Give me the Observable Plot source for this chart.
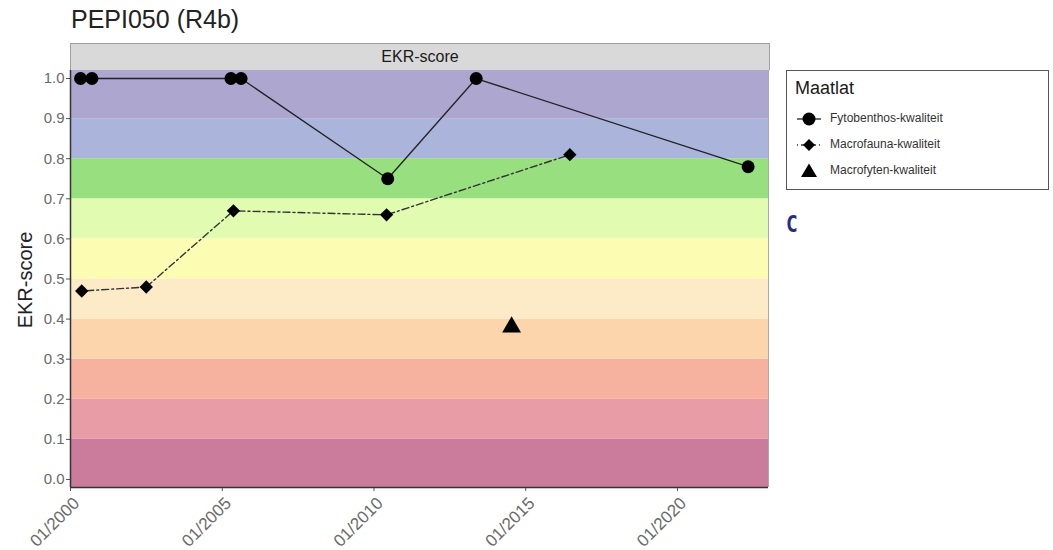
<!DOCTYPE html>
<html><head><meta charset="utf-8">
<script src="https://cdn.jsdelivr.net/npm/d3@7"></script>
<script src="https://cdn.jsdelivr.net/npm/@observablehq/plot@0.6"></script>
<style>
body{margin:0;background:#fff;font-family:"Liberation Sans",Arial,sans-serif;}
#wrap{position:relative;width:1053px;height:550px;}
#title{position:absolute;left:71px;top:5px;font-size:25px;color:#222;}
#strip{position:absolute;left:70px;top:43px;width:698px;height:26px;background:#d9d9d9;border:1px solid #a0a0a0;border-bottom:none;text-align:center;font-size:16px;line-height:26px;color:#1a1a1a;}
#legend{position:absolute;left:786px;top:70px;width:263px;height:120px;border:1px solid #555;box-sizing:border-box;}
#legend .ttl{position:absolute;left:8px;top:7px;font-size:18px;color:#1a1a1a;}
#legend .item{position:absolute;left:8px;height:20px;font-size:12px;color:#333;}
#legend .item svg{position:absolute;left:0;top:0;}
#legend .item span{position:absolute;left:35px;top:2px;white-space:nowrap;}
#clabel{position:absolute;left:786px;top:211px;font-family:"DejaVu Sans Mono",monospace;font-weight:bold;font-size:23px;color:#2b2a80;transform:scaleX(0.85);transform-origin:left top;}
#plot{position:absolute;left:0;top:0;}
</style></head>
<body><div id="wrap">
<div id="plot"></div>
<div id="title">PEPI050 (R4b)</div>
<div id="strip">EKR-score</div>
<div id="legend"></div>
<div id="clabel">C</div>
</div>
<script>
// ---- data ----
const fytoDates = ["2000-05-01","2000-09-15","2005-04-15","2005-08-15","2010-06-15","2013-05-15","2022-05-01"];
const fytoValues = [1.0, 1.0, 1.0, 1.0, 0.75, 1.0, 0.78];
const faunaDates = ["2000-05-15","2002-07-01","2005-05-15","2010-06-01","2016-06-15"];
const faunaValues = [0.47, 0.48, 0.67, 0.66, 0.81];
const fytenDates = ["2014-07-15"];
const fytenValues = [0.38];
const seriesNames = ["Fytobenthos-kwaliteit","Macrofauna-kwaliteit","Macrofyten-kwaliteit"];
const bandLower = [0.0,0.1,0.2,0.3,0.4,0.5,0.6,0.7,0.8,0.9];
const bandColors = ["#cb7c9c","#e89ca5","#f7b29f","#fcd5ac","#fdeac6","#fcfcb2","#e1fbb1","#98e07f","#abb5db","#ada6cf"];
const yTicks = [0,0.1,0.2,0.3,0.4,0.5,0.6,0.7,0.8,0.9,1.0];
const xTickYears = [2000,2005,2010,2015,2020];
const xDomain = ["2000-01-01","2023-01-01"];
const yDomain = [-0.02, 1.02];

const parse = d3.utcParse("%Y-%m-%d");
const fyto = fytoDates.map((d,i)=>({date:parse(d),value:fytoValues[i]}));
const fauna = faunaDates.map((d,i)=>({date:parse(d),value:faunaValues[i]}));
const fyten = fytenDates.map((d,i)=>({date:parse(d),value:fytenValues[i]}));
const bands = bandLower.map((lo,i)=>({
  y1: i===0 ? yDomain[0] : lo,
  y2: i===bandLower.length-1 ? yDomain[1] : lo+0.1,
  color: bandColors[i]
}));
const xTickDates = xTickYears.map(y=>new Date(Date.UTC(y,0,1)));

const chart = Plot.plot({
  width:1053, height:550,
  marginLeft:70, marginRight:285, marginTop:70, marginBottom:63,
  style:{fontFamily:"Liberation Sans, Arial, sans-serif", fontSize:"14px", color:"#555", background:"transparent"},
  x:{type:"utc", domain:xDomain.map(parse), label:null},
  y:{domain:yDomain, label:null},
  marks:[
    Plot.rect(bands,{x1:parse(xDomain[0]),x2:parse(xDomain[1]),y1:"y1",y2:"y2",fill:"color"}),
    Plot.ruleX([parse(xDomain[1])],{stroke:"#aaa",strokeWidth:1}),
    Plot.axisY({ticks:yTicks,tickFormat:d3.format(".1f"),tickSize:4,stroke:"#555",fill:"#6a6a6a",fontSize:15,label:null,tickPadding:2}),
    Plot.axisX({ticks:xTickDates,tickSize:4,stroke:"#555",tickFormat:()=>"",label:null}),
    Plot.axisX({ticks:xTickDates,tickFormat:d3.utcFormat("%m/%Y"),tickRotate:-45,tickSize:0,fill:"#6a6a6a",fontSize:17,label:null,tickPadding:0,dx:6,dy:13}),
    Plot.ruleY([yDomain[0]],{stroke:"#333",strokeWidth:1.5}),
    Plot.ruleX([parse(xDomain[0])],{stroke:"#333",strokeWidth:1.5}),
    Plot.line(fyto,{x:"date",y:"value",stroke:"#222",strokeWidth:1.3}),
    Plot.line(fauna,{x:"date",y:"value",stroke:"#333",strokeWidth:1.4,strokeDasharray:"2,3,7,3"}),
    Plot.dot(fyto,{x:"date",y:"value",r:6.5,fill:"#000",stroke:"none"}),
    Plot.dot(fauna,{x:"date",y:"value",r:6,symbol:"diamond2",fill:"#000",stroke:"none"}),
    Plot.dot(fyten,{x:"date",y:"value",r:7,symbol:"triangle",fill:"#000",stroke:"none"})
  ]
});
const svg = d3.select(chart);
svg.append("text").attr("transform","translate(32,280) rotate(-90)").attr("text-anchor","middle")
  .attr("font-size",20).attr("fill","#222").attr("font-family","Liberation Sans, Arial, sans-serif").text("EKR-score");
document.getElementById("plot").appendChild(chart);

// legend
const leg = document.getElementById("legend");
leg.innerHTML = '<div class="ttl">Maatlat</div>';
const symPaths = [
  '<line x1="2" y1="10" x2="26" y2="10" stroke="#222" stroke-width="1.3"/><circle cx="14" cy="10" r="6.5" fill="#000"/>',
  '<line x1="2" y1="10" x2="26" y2="10" stroke="#333" stroke-width="1.3" stroke-dasharray="1,3,4,3"/><path d="M14,4 L20,10 L14,16 L8,10Z" fill="#000"/>',
  '<path d="M14,2.5 L22,16 L6,16Z" fill="#000"/>'
];
seriesNames.forEach((n,i)=>{
  const d = document.createElement("div");
  d.className="item"; d.style.top=(38+i*26)+"px";
  d.innerHTML = '<svg width="30" height="20">'+symPaths[i]+'</svg><span>'+n+'</span>';
  leg.appendChild(d);
});
</script>
</body></html>
